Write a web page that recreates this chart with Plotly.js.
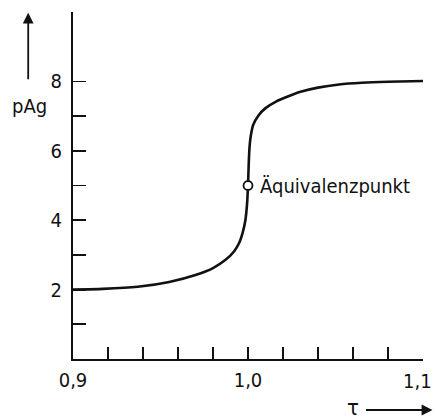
<!DOCTYPE html>
<html><head><meta charset="utf-8">
<script src="https://cdn.plot.ly/plotly-3.0.1.min.js"></script>
<style>html,body{margin:0;padding:0;background:#fff}</style>
</head><body><div id="chart" style="width:435px;height:419px"></div>
<script>
const tau = [0.900, 0.917, 0.937, 0.955, 0.970, 0.980, 0.987, 0.992, 0.995, 0.997, 0.9985, 0.9995, 1.000, 1.0004, 1.0008, 1.0015, 1.003, 1.006, 1.010, 1.016, 1.022, 1.030, 1.040, 1.052, 1.065, 1.080, 1.100];
const pAg = [2.00, 2.02, 2.08, 2.22, 2.42, 2.62, 2.85, 3.10, 3.35, 3.65, 4.00, 4.50, 5.00, 5.60, 6.05, 6.40, 6.75, 7.02, 7.23, 7.42, 7.55, 7.70, 7.82, 7.91, 7.96, 7.99, 8.01];
const eqTau = [1.0];
const eqPAg = [5.0];
const eqLabel = "Äquivalenzpunkt";
const xTickVals = [0.92, 0.94, 0.96, 0.98, 1.0, 1.02, 1.04, 1.06, 1.08, 1.1];
const xLabelVals = [0.9, 1.0, 1.1];
const xLabelText = ["0,9", "1,0", "1,1"];
const yTickVals = [1, 2, 3, 4, 5, 6, 7, 8];
const yLabelVals = [2, 4, 6, 8];
const xTitle = "τ";
const yTitle = "pAg";

const F = "DejaVu Sans Condensed, DejaVu Sans, sans-serif";
const nAxisLabels = xLabelVals.length - 1; // last label drawn as an annotation so it stays inside the page
const traces = [
  {x: tau, y: pAg, type: 'scatter', mode: 'lines', line: {color: '#111', width: 2.6, shape: 'spline', smoothing: 0.6}, hoverinfo: 'skip'},
  {x: eqTau, y: eqPAg, type: 'scatter', mode: 'markers', marker: {size: 9, color: '#fff', line: {color: '#111', width: 1.8}}, hoverinfo: 'skip'},
  {x: xLabelVals, y: [0,0,0], type: 'scatter', mode: 'markers', marker: {opacity: 0}, xaxis: 'x2', yaxis: 'y2', hoverinfo: 'skip'},
  {x: [0.9,0.9,0.9,0.9], y: yLabelVals, type: 'scatter', mode: 'markers', marker: {opacity: 0}, xaxis: 'x2', yaxis: 'y2', hoverinfo: 'skip'}
];
const layout = {
  width: 435, height: 419, showlegend: false,
  paper_bgcolor: '#fff', plot_bgcolor: '#fff',
  margin: {l: 73, r: 12, t: 12, b: 60},
  font: {family: F, color: '#111', size: 20},
  xaxis: {range: [0.9, 1.1], showgrid: false, zeroline: false, showline: true, linecolor: '#111', linewidth: 2,
    ticks: 'inside', ticklen: 12, tickwidth: 1.8, tickcolor: '#111', tickvals: xTickVals, showticklabels: false},
  yaxis: {range: [0, 10], showgrid: false, zeroline: false, showline: true, linecolor: '#111', linewidth: 2,
    ticks: 'inside', ticklen: 13, tickwidth: 1.8, tickcolor: '#111', tickvals: yTickVals, showticklabels: false},
  xaxis2: {range: [0.9, 1.1], overlaying: 'x', showgrid: false, zeroline: false, showline: false, ticks: '',
    tickvals: xLabelVals.slice(0, nAxisLabels), ticktext: xLabelText.slice(0, nAxisLabels), tickfont: {family: F, size: 20, color: '#111'}, anchor: 'y2',
    ticklabelstandoff: 7},
  yaxis2: {range: [0, 10], overlaying: 'y', showgrid: false, zeroline: false, showline: false, ticks: '',
    tickvals: yLabelVals, ticktext: yLabelVals.map(String), tickfont: {family: F, size: 20, color: '#111'}, anchor: 'x2', ticklabelstandoff: 10},
  annotations: [
    {xref: 'x', yref: 'y', x: eqTau[0], y: eqPAg[0], text: eqLabel, showarrow: false, xanchor: 'left', yanchor: 'middle', xshift: 10,
      font: {family: F, size: 20, color: '#111'}},
    {xref: 'x', yref: 'paper', x: xLabelVals[nAxisLabels], y: -0.064, text: xLabelText[nAxisLabels], showarrow: false, xanchor: 'right', yanchor: 'middle', xshift: 11,
      font: {family: F, size: 20, color: '#111'}},
    {xref: 'paper', yref: 'paper', x: -0.123, y: 0.728, text: yTitle, showarrow: false, xanchor: 'center', yanchor: 'middle', font: {family: F, size: 20, color: '#111'}},
    {xref: 'paper', yref: 'paper', x: -0.128, y: 0.998, ax: 0, ay: 68, text: '', showarrow: true, arrowhead: 2, arrowsize: 1.2, arrowwidth: 1.8, arrowcolor: '#111'},
    {xref: 'paper', yref: 'paper', x: 0.8, y: -0.141, text: xTitle, showarrow: false, xanchor: 'center', yanchor: 'middle', font: {family: F, size: 22, color: '#111'}},
    {xref: 'paper', yref: 'paper', x: 1.027, y: -0.147, ax: -68, ay: 0, text: '', showarrow: true, arrowhead: 2, arrowsize: 1.2, arrowwidth: 1.8, arrowcolor: '#111'}
  ]
};
Plotly.newPlot('chart', traces, layout, {staticPlot: true, displayModeBar: false});
</script></body></html>
